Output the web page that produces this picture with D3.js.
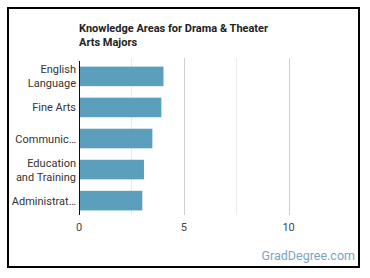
<!DOCTYPE html>
<html>
<head>
<meta charset="utf-8">
<style>
  body { margin: 0; padding: 0; background: white; overflow: hidden; }
  svg { font-family: Roboto, "Liberation Sans", sans-serif; }
  .title { font-size: 11px; font-weight: bold; fill: #222; }
  .cat { font-size: 11px; fill: #333; }
  .tick-label { font-size: 11px; fill: #444; }
  .brand { font-size: 12.5px; fill: #7aa5bf; }
</style>
</head>
<body>
<script src="https://cdn.jsdelivr.net/npm/d3@7"></script>
<script>
// data
var categories = [["English", "Language"], ["Fine Arts"], ["Communic…"], ["Education", "and Training"], ["Administrat…"]];
var values = [4.03, 3.93, 3.5, 3.1, 3.02];
var ticks = [0, 5, 10];
var minorTicks = [2.5, 7.5];

var W = 370, H = 278;
var svg = d3.select("body").append("svg")
    .attr("width", W)
    .attr("height", H);

svg.append("rect")
    .attr("x", 8).attr("y", 8)
    .attr("width", 351).attr("height", 259)
    .attr("fill", "white")
    .attr("stroke", "black")
    .attr("stroke-width", 2);

var title = svg.append("text").attr("class", "title").attr("x", 79).attr("y", 32);
title.append("tspan").attr("x", 79).text("Knowledge Areas for Drama & Theater");
title.append("tspan").attr("x", 79).attr("dy", 14).text("Arts Majors");

var x = d3.scaleLinear().domain([0, 12.5]).range([79, 341]);
var y = d3.scaleBand().domain(d3.range(categories.length)).range([61, 216]).paddingInner(0.37).paddingOuter(0.18);

// grid lines
svg.selectAll(".minor")
    .data(minorTicks)
    .enter().append("line")
    .attr("x1", d => Math.round(x(d)) + 0.5).attr("x2", d => Math.round(x(d)) + 0.5)
    .attr("y1", 58).attr("y2", 215)
    .attr("stroke", "#ebebeb");

svg.selectAll(".major")
    .data(ticks.slice(1))
    .enter().append("line")
    .attr("x1", d => Math.round(x(d)) + 0.5).attr("x2", d => Math.round(x(d)) + 0.5)
    .attr("y1", 58).attr("y2", 215)
    .attr("stroke", "#cfcfcf");

// bars
svg.selectAll(".bar")
    .data(values)
    .enter().append("rect")
    .attr("class", "bar")
    .attr("x", x(0))
    .attr("y", (d, i) => y(i))
    .attr("width", d => x(d) - x(0))
    .attr("height", y.bandwidth())
    .attr("fill", "#5c9fbd");

// axis line
svg.append("line")
    .attr("x1", x(0) + 0.5).attr("x2", x(0) + 0.5)
    .attr("y1", 61).attr("y2", 215)
    .attr("stroke", "#111");

// x tick labels
svg.selectAll(".tick-label")
    .data(ticks)
    .enter().append("text")
    .attr("class", "tick-label")
    .attr("x", d => x(d))
    .attr("y", 231)
    .attr("text-anchor", "middle")
    .text(d => d);

// category labels
categories.forEach(function(lines, i) {
    var cy = y(i) + y.bandwidth() / 2;
    var t = svg.append("text")
        .attr("class", "cat")
        .attr("text-anchor", "end");
    lines.forEach(function(s, j) {
        t.append("tspan")
            .attr("x", 76)
            .attr("y", cy + 4 + (j - (lines.length - 1) / 2) * 14)
            .text(s);
    });
});

svg.append("text")
    .attr("class", "brand")
    .attr("x", 355)
    .attr("y", 260)
    .attr("text-anchor", "end")
    .text("GradDegree.com");
</script>
</body>
</html>
